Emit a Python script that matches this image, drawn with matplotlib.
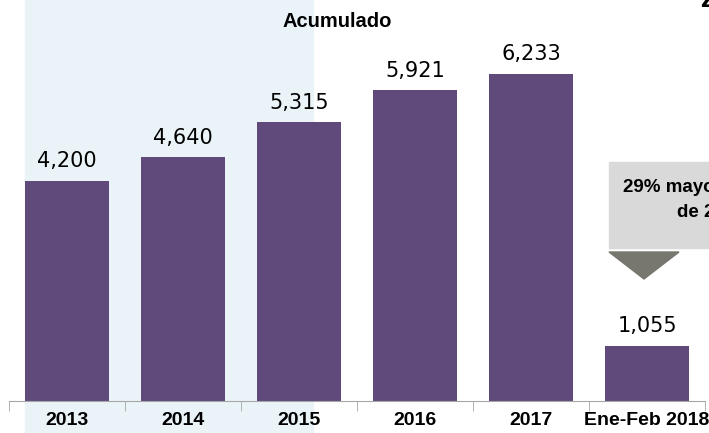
import matplotlib
matplotlib.use("Agg")
from matplotlib import pyplot as plt
from matplotlib.patches import Rectangle, Polygon

categories = ["2013", "2014", "2015", "2016", "2017", "Ene-Feb 2018"]
values = [4200, 4640, 5315, 5921, 6233, 1055]
value_labels = ["4,200", "4,640", "5,315", "5,921", "6,233", "1,055"]
note_line1 = "29% mayor que el mismo"
note_line2 = "de 2017"

bold_font = ["Liberation Sans", "DejaVu Sans"]

fig = plt.figure(figsize=(7.09, 4.33), dpi=100)
ax = fig.add_axes([9 / 709, 32 / 433, 696 / 709, 401 / 433])

x = list(range(len(categories)))
ax.bar(x, values, width=0.72, color="#604A7B", zorder=2)
for xi, v, lab in zip(x, values, value_labels):
    ax.text(xi, v + 180, lab, ha="center", va="bottom", fontsize=15, color="black")

ax.set_xlim(-0.5, len(categories) - 0.5)
ax.set_ylim(0, 7640)

# light blue shade behind the first years
ax.axvspan(-0.362, 2.12, ymin=-0.1, ymax=1, color="#EAF4F8", zorder=0, clip_on=False)
ax.text(2.33, 7230, "Acumulado", ha="center", va="center", fontsize=14.5,
        fontweight="bold", family=bold_font)

for s in ["top", "right", "left"]:
    ax.spines[s].set_visible(False)
ax.spines["bottom"].set_color("#A6A6A6")
ax.set_yticks([])
ax.set_xticks(x)
ax.set_xticklabels(categories, fontsize=14, fontweight="bold", family=bold_font)
ax.tick_params(axis="x", which="major", length=0, pad=8)
ax.set_xticks([i - 0.5 for i in range(len(categories) + 1)], minor=True)
ax.tick_params(axis="x", which="minor", length=7, color="#A6A6A6")

# gray callout box with arrow, cut at the right edge
fig.patches.append(Rectangle((609 / 709, (433 - 248) / 433), 120 / 709, 86 / 433,
                             transform=fig.transFigure, color="#D9D9D9", zorder=3))
fig.patches.append(Polygon([(609 / 709, (433 - 252) / 433), (679 / 709, (433 - 252) / 433),
                            (644 / 709, (433 - 279) / 433)],
                           transform=fig.transFigure, color="#77776F", zorder=3))
fig.text(623 / 709, (433 - 187) / 433, note_line1, ha="left", va="center",
         fontsize=13.5, fontweight="bold", family=bold_font, zorder=4)
fig.text(677 / 709, (433 - 213) / 433, note_line2, ha="left", va="center",
         fontsize=13.5, fontweight="bold", family=bold_font, zorder=4)

fig.text(700 / 709, 1.0, "Z", ha="left", va="center", fontsize=20,
         fontweight="bold", family=bold_font)

fig.savefig("out.png", dpi=100)
